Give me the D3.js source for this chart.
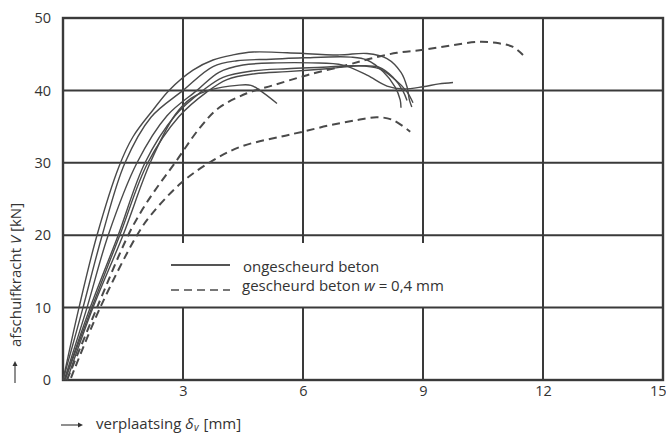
<!DOCTYPE html>
<html>
<head>
<meta charset="utf-8">
<script src="https://cdn.jsdelivr.net/npm/d3@7"></script>
<style>
  html, body { margin: 0; padding: 0; background: #ffffff; }
  svg { display: block; }
  text { font-family: "Open Sans", "Noto Sans", sans-serif; fill: #333; }
</style>
</head>
<body>
<svg id="chart" width="666" height="434"></svg>
<script>
// Axis ticks
const xTicks = [3, 6, 9, 12, 15];
const yTicks = [0, 10, 20, 30, 40, 50];

// Load–displacement curves [verplaatsing mm, afschuifkracht kN]
// ongescheurd beton (solid)
const ongescheurd1 = [[0,0],[0.4,10],[0.85,20],[1.4,29.5],[1.75,33.6],[2.25,37.3],[2.65,40],[3.25,42.8],[3.75,44.2],[4.25,44.9],[4.75,45.3],[5.6,45.2],[6.9,44.9],[7.6,45.1],[8.1,44.4],[8.45,42.5],[8.6,40.5],[8.66,38.7],[8.72,37.7]];
const ongescheurd2 = [[0,0],[0.5,10],[0.98,20],[1.55,30],[2.2,36.3],[3.0,40],[3.75,43.3],[4.35,44.1],[5.2,44.3],[6.0,44.5],[7.2,44.6],[7.6,44.2],[8.0,42.6],[8.3,40.5],[8.43,38.7],[8.45,37.6]];
const ongescheurd3 = [[0.03,0],[0.6,10],[1.13,20],[1.85,30],[2.6,36.5],[3.35,40],[3.9,42.5],[4.5,43.5],[5.35,43.8],[6.2,43.8],[7.0,43.5],[7.6,42.1],[8.1,40.6],[8.5,40.2],[9.0,40.5],[9.4,40.9],[9.75,41.1]];
const ongescheurd4 = [[0.05,0],[0.68,10],[1.38,20],[2.05,30],[2.8,36.5],[3.5,40],[4.0,41.8],[4.75,42.7],[5.6,43.0],[6.5,43.2],[7.3,43.4],[7.9,43.0],[8.3,41.5],[8.6,39.8],[8.75,38.3]];
const ongescheurd5 = [[0.05,0],[0.72,10],[1.42,20],[2.12,30],[2.9,36.4],[3.6,39.8],[4.1,41.5],[4.8,42.3],[5.6,42.6],[6.6,43.0],[7.4,43.4],[7.9,43.2],[8.25,41.8],[8.5,39.9],[8.6,38.6]];
const ongescheurd6 = [[0.1,0],[0.75,10],[1.5,20],[2.18,30],[2.8,36.6],[3.2,38.9],[3.7,40.1],[4.35,40.7],[4.7,40.7],[4.95,39.9],[5.35,38.2]];

// gescheurd beton w = 0,4 mm (dashed)
const gescheurd1 = [[0.1,0],[0.85,10],[1.63,20],[1.98,23.5],[2.3,26.2],[2.8,30],[3.43,34.9],[3.9,37.6],[4.6,39.6],[5.25,40.7],[6.1,42.1],[7.1,43.5],[7.7,44.4],[8.35,45.2],[9.0,45.6],[9.7,46.2],[10.4,46.7],[10.9,46.5],[11.25,46.0],[11.5,44.9]];
const gescheurd2 = [[0.2,0.3],[0.93,10],[1.85,20],[2.2,22.8],[2.95,27.2],[3.68,30.1],[4.43,32.2],[5.43,33.6],[6.0,34.3],[6.68,35.2],[7.35,35.9],[7.85,36.3],[8.25,35.9],[8.68,34.3]];

const solidSeries = [ongescheurd1, ongescheurd2, ongescheurd3, ongescheurd4, ongescheurd5, ongescheurd6];
const dashedSeries = [gescheurd1, gescheurd2];

const svg = d3.select("#chart");
const x = d3.scaleLinear().domain([0, 15]).range([63, 663]);
const y = d3.scaleLinear().domain([0, 50]).range([380, 18]);

const ink = "#3a3a3a";

// vertical grid lines
svg.append("g").selectAll("line").data(xTicks.filter(d => d < 15)).join("line")
  .attr("x1", d => x(d)).attr("x2", d => x(d))
  .attr("y1", y(50)).attr("y2", y(0))
  .attr("stroke", ink).attr("stroke-width", 2);

// legend backdrop interrupts the vertical grid
svg.append("rect")
  .attr("x", 152).attr("y", 243).attr("width", 320).attr("height", y(10) - 243)
  .attr("fill", "#fff");

// horizontal grid lines
svg.append("g").selectAll("line").data(yTicks.filter(d => d > 0 && d < 50)).join("line")
  .attr("x1", x(0)).attr("x2", x(15))
  .attr("y1", d => y(d)).attr("y2", d => y(d))
  .attr("stroke", ink).attr("stroke-width", 2);

svg.append("rect")
  .attr("x", x(0)).attr("y", y(50))
  .attr("width", x(15) - x(0)).attr("height", y(0) - y(50))
  .attr("fill", "none").attr("stroke", ink).attr("stroke-width", 2.4);

// axes (labels only)
const yAxis = svg.append("g").attr("transform", `translate(${x(0)},0)`)
  .call(d3.axisLeft(y).tickValues(yTicks).tickSize(0).tickPadding(12));
const xAxis = svg.append("g").attr("transform", `translate(0,${y(0)})`)
  .call(d3.axisBottom(x).tickValues(xTicks).tickSize(0).tickPadding(6));
[yAxis, xAxis].forEach(a => {
  a.select(".domain").remove();
  a.selectAll("text").attr("font-size", 14.5).attr("fill", "#333")
    .attr("font-family", '"Open Sans", "Noto Sans", sans-serif');
});
// last x label sits flush against the right edge
xAxis.selectAll(".tick").filter(d => d === 15).select("text")
  .attr("text-anchor", "end").attr("x", 3);

// curves
const line = d3.line().x(d => x(d[0])).y(d => y(d[1])).curve(d3.curveCatmullRom.alpha(0.5));

svg.append("g").selectAll("path").data(solidSeries).join("path")
  .attr("d", line).attr("fill", "none")
  .attr("stroke", "#4a4a4a").attr("stroke-width", 1.4);

svg.append("g").selectAll("path").data(dashedSeries).join("path")
  .attr("d", line).attr("fill", "none")
  .attr("stroke", "#4a4a4a").attr("stroke-width", 2)
  .attr("stroke-dasharray", "8,5");

// legend
const legend = svg.append("g");
legend.append("line").attr("x1", 171).attr("x2", 230).attr("y1", 265).attr("y2", 265)
  .attr("stroke", "#555").attr("stroke-width", 2.2);
legend.append("line").attr("x1", 171).attr("x2", 230).attr("y1", 290).attr("y2", 290)
  .attr("stroke", "#777").attr("stroke-width", 2.2).attr("stroke-dasharray", "8,5");
legend.append("text").attr("x", 243).attr("y", 272).attr("font-size", 15)
  .text("ongescheurd beton");
const l2 = legend.append("text").attr("x", 242).attr("y", 291).attr("font-size", 15);
l2.append("tspan").text("gescheurd beton ");
l2.append("tspan").attr("font-style", "italic").text("w");
l2.append("tspan").text(" = 0,4 mm");

// axis titles with arrows
const arrowHead = (g, x0, y0, dir) => {
  const p = dir === "right"
    ? `M${x0},${y0} L${x0 - 5},${y0 - 2.5} L${x0 - 5},${y0 + 2.5} Z`
    : `M${x0},${y0} L${x0 - 2.5},${y0 + 5} L${x0 + 2.5},${y0 + 5} Z`;
  g.append("path").attr("d", p).attr("fill", "#333");
};

const xt = svg.append("g");
xt.append("line").attr("x1", 61).attr("x2", 80).attr("y1", 425).attr("y2", 425)
  .attr("stroke", "#333").attr("stroke-width", 1.1);
arrowHead(xt, 83, 425, "right");
const xl = xt.append("text").attr("x", 96).attr("y", 429).attr("font-size", 15);
xl.append("tspan").text("verplaatsing ");
xl.append("tspan").attr("font-style", "italic").text("δ");
const xlWidth = xl.node().getComputedTextLength();
xt.append("text").attr("x", 96 + xlWidth + 0.5).attr("y", 431)
  .attr("font-size", 10).attr("font-style", "italic").text("v");
xt.append("text").attr("x", 96 + xlWidth + 10).attr("y", 429)
  .attr("font-size", 15).text("[mm]");

const yt = svg.append("g");
yt.append("line").attr("x1", 15).attr("x2", 15).attr("y1", 383).attr("y2", 364)
  .attr("stroke", "#333").attr("stroke-width", 1.1);
arrowHead(yt, 15, 361, "up");
const yl = yt.append("text").attr("transform", "translate(21,347) rotate(-90)").attr("font-size", 15);
yl.append("tspan").text("afschuifkracht ");
yl.append("tspan").attr("font-style", "italic").text("V");
yl.append("tspan").text(" [kN]");
</script>
</body>
</html>
